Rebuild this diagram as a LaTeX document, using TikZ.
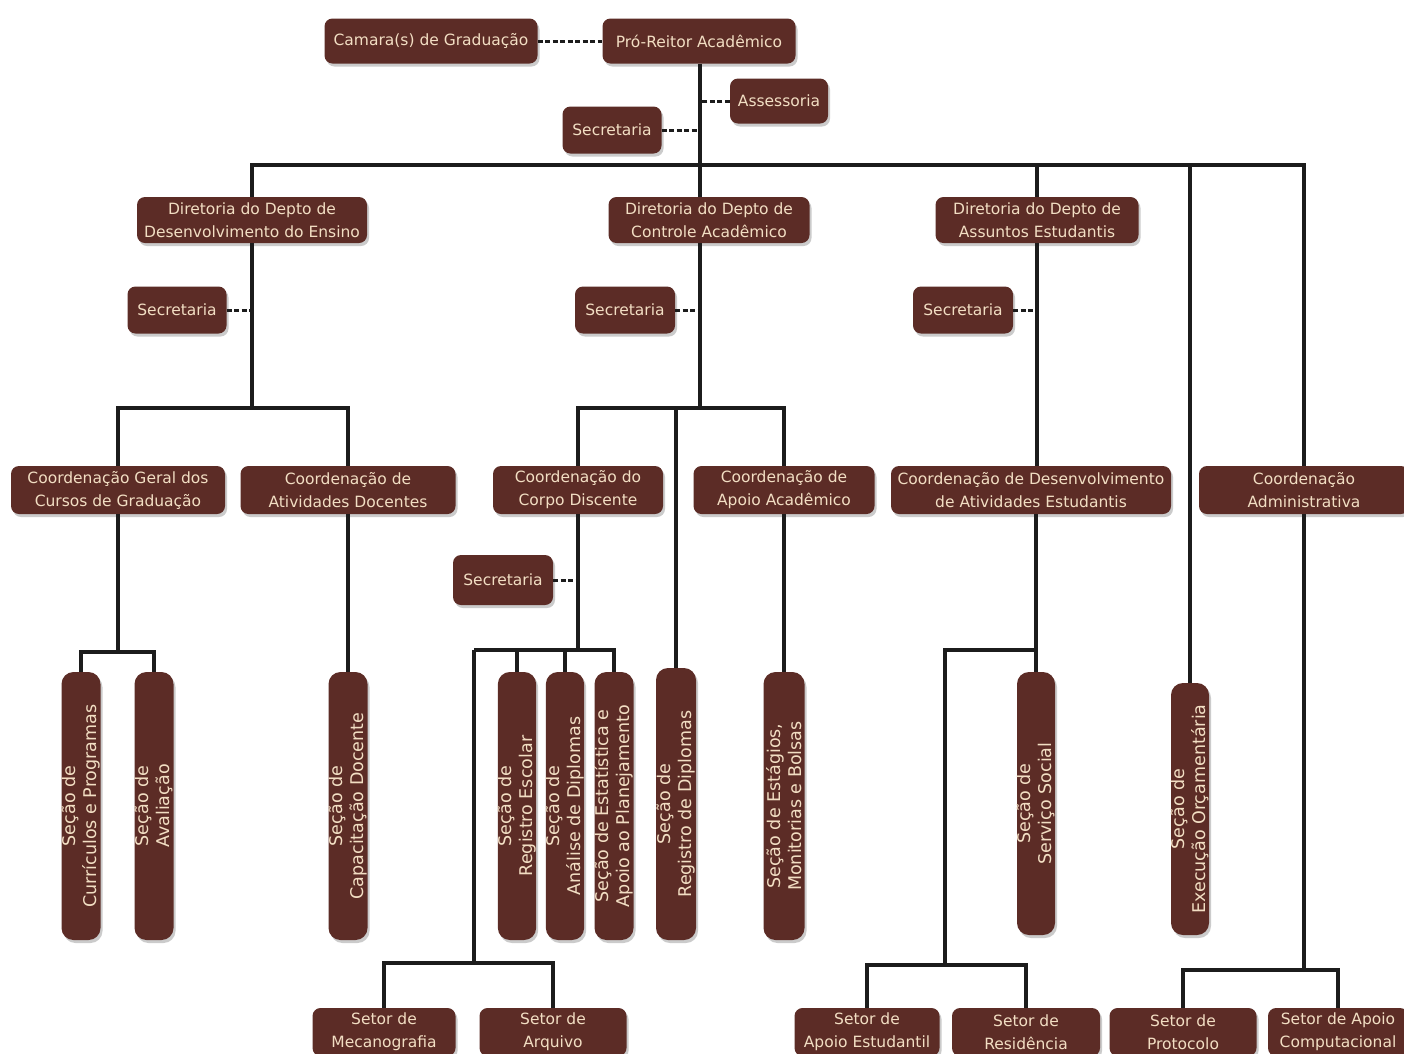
\documentclass[tikz,border=0pt]{standalone}
\usepackage{fontspec}
\setmainfont{DejaVu Sans}
\usetikzlibrary{shadows}
\definecolor{boxc}{RGB}{92,44,38}
\definecolor{txtc}{RGB}{242,222,195}
\definecolor{linec}{RGB}{28,28,28}
\begin{document}
\begin{tikzpicture}[x=1pt,y=-1pt,
  hbox/.style={rectangle,rounded corners=8pt,fill=boxc,text=txtc,align=center,inner sep=0pt,
    font=\fontsize{15.5}{23}\selectfont,
    drop shadow={shadow xshift=2pt,shadow yshift=-3pt,fill=black!40,opacity=0.5}},
  vbox/.style={hbox,rotate=90,rounded corners=12pt,font=\fontsize{17.5}{21}\selectfont,minimum height=39pt},
  conn/.style={draw=linec,line width=3.4pt},
  dsh/.style={draw=linec,line width=3pt,dash pattern=on 5pt off 2.5pt}]
\useasboundingbox (0,0) rectangle (1404,1053);
\clip (0,0) rectangle (1404,1053);
\fill[white] (0,0) rectangle (1404,1053);

% ---- top level
\node[hbox,minimum width=213pt,minimum height=45pt] (cam) at (431,41) {Camara(s) de Graduação};
\node[hbox,minimum width=193pt,minimum height=45pt] (pro) at (699,41) {Pró-Reitor Acadêmico};
\node[hbox,minimum width=98pt,minimum height=45pt] (ass) at (779,101) {Assessoria};
\node[hbox,minimum width=99pt,minimum height=47pt] (sec0) at (612,130) {Secretaria};

% ---- directorates
\node[hbox,minimum width=230pt,minimum height=46pt] (dde) at (252,220) {Diretoria do Depto de\\Desenvolvimento do Ensino};
\node[hbox,minimum width=201pt,minimum height=46pt] (dca) at (709,220) {Diretoria do Depto de\\Controle Acadêmico};
\node[hbox,minimum width=203pt,minimum height=46pt] (dae) at (1037,220) {Diretoria do Depto de\\Assuntos Estudantis};

\node[hbox,minimum width=99pt,minimum height=47pt] (sec1) at (177,310) {Secretaria};
\node[hbox,minimum width=100pt,minimum height=47pt] (sec2) at (625,310) {Secretaria};
\node[hbox,minimum width=100pt,minimum height=47pt] (sec3) at (963,310) {Secretaria};

% ---- coordinations
\node[hbox,minimum width=214pt,minimum height=48pt] (cgc) at (118,490) {Coordenação Geral dos\\Cursos de Graduação};
\node[hbox,minimum width=215pt,minimum height=48pt] (cad) at (348,490) {Coordenação de\\Atividades Docentes};
\node[hbox,minimum width=170pt,minimum height=48pt] (ccd) at (578,490) {Coordenação do\\Corpo Discente};
\node[hbox,minimum width=181pt,minimum height=48pt] (caa) at (784,490) {Coordenação de\\Apoio Acadêmico};
\node[hbox,minimum width=280pt,minimum height=48pt] (cdae) at (1031,490) {Coordenação de Desenvolvimento\\de Atividades Estudantis};
\node[hbox,minimum width=210pt,minimum height=48pt] (cadm) at (1304,490) {Coordenação\\Administrativa};

\node[hbox,minimum width=100pt,minimum height=50pt] (sec4) at (503,580) {Secretaria};

% ---- sections (vertical)
\node[vbox,minimum width=268pt] (scp) at (81,806) {Seção de\\Currículos e Programas};
\node[vbox,minimum width=268pt] (sav) at (154,806) {Seção de\\Avaliação};
\node[vbox,minimum width=268pt] (scd) at (348,806) {Seção de\\Capacitação Docente};
\node[vbox,minimum width=268pt,minimum height=38pt] (sre) at (517,806) {Seção de\\Registro Escolar};
\node[vbox,minimum width=268pt,minimum height=38pt] (sad) at (565,806) {Seção de\\Análise de Diplomas};
\node[vbox,minimum width=268pt] (sep) at (614,806) {Seção de Estatística e\\Apoio ao Planejamento};
\node[vbox,minimum width=272pt,minimum height=40pt] (srd) at (676,804) {Seção de\\Registro de Diplomas};
\node[vbox,minimum width=268pt,minimum height=41pt] (seb) at (784,806) {Seção de Estágios,\\Monitorias e Bolsas};
\node[vbox,minimum width=263pt,minimum height=38pt] (sss) at (1036,803.5) {Seção de\\Serviço Social};
\node[vbox,minimum width=252pt,minimum height=38pt] (seo) at (1190,809) {Seção de\\Execução Orçamentária};

% ---- sectors (bottom)
\node[hbox,minimum width=143pt,minimum height=48pt] (smec) at (384,1032) {Setor de\\Mecanografia};
\node[hbox,minimum width=147pt,minimum height=48pt] (sarq) at (553,1032) {Setor de\\Arquivo};
\node[hbox,minimum width=145pt,minimum height=48pt] (sape) at (867,1032) {Setor de\\Apoio Estudantil};
\node[hbox,minimum width=148pt,minimum height=48pt] (sres) at (1026,1032) {Setor de\\Residência};
\node[hbox,minimum width=147pt,minimum height=48pt] (spro) at (1183,1032) {Setor de\\Protocolo};
\node[hbox,minimum width=140pt,minimum height=48pt] (sapc) at (1338,1032) {Setor de Apoio\\Computacional};

% ---- connectors
\coordinate (b1) at (700,165);
\draw[dsh] (cam.east) -- (pro.west);
\draw[conn] (pro.south -| b1) -- (b1);
\draw[dsh] (ass.west) -- (ass.west -| b1);
\draw[dsh] (sec0.east) -- (sec0.east -| b1);
\draw[conn] (dde.north) |- (b1) -| (cadm.north);
\draw[conn] (b1) -- (b1 |- dca.north);
\draw[conn] (b1) -| (dae.north);
\draw[conn] (b1) -| (seo.east);

% left branch
\coordinate (b2) at (252,408);
\draw[conn] (dde.south) -- (b2);
\draw[dsh] (sec1.east) -- (sec1.east -| b2);
\draw[conn] (cgc.north) |- (b2) -| (cad.north);
\coordinate (b4) at (118,652);
\draw[conn] (cgc.south) -- (b4);
\draw[conn] (scp.east) |- (b4) -| (sav.east);
\draw[conn] (cad.south) -- (scd.east);

% middle branch
\coordinate (b3) at (700,408);
\draw[conn] (dca.south -| b3) -- (b3);
\draw[dsh] (sec2.east) -- (sec2.east -| b3);
\draw[conn] (ccd.north) |- (b3) -| (caa.north);
\draw[conn] (srd.east) |- (b3);
\draw[conn] (caa.south) -- (seb.east);
\coordinate (b5) at (578,650);
\coordinate (b6) at (474,650);
\coordinate (b7) at (474,963);
\draw[conn] (ccd.south) -- (b5);
\draw[dsh] (sec4.east) -- (sec4.east -| b5);
\draw[conn] (b6) -| (sep.east);
\draw[conn] (sre.east) |- (b6);
\draw[conn] (sad.east) |- (b6);
\draw[conn] (b6) -- (b7);
\draw[conn] (smec.north) |- (b7) -| (sarq.north);

% right branch
\draw[conn] (dae.south) -- (dae.south |- cdae.north);
\draw[dsh] (sec3.east) -- (sec3.east -| dae.south);
\coordinate (b8) at (1036,650);
\coordinate (b9) at (945,650);
\coordinate (b10) at (945,965);
\draw[conn] (cdae.south -| b8) -- (sss.east);
\draw[conn] (b8) -- (b9) -- (b10);
\draw[conn] (sape.north) |- (b10) -| (sres.north);

% admin branch
\coordinate (b11) at (1304,970);
\draw[conn] (cadm.south) -- (b11);
\draw[conn] (spro.north) |- (b11) -| (sapc.north);
\end{tikzpicture}
\end{document}
